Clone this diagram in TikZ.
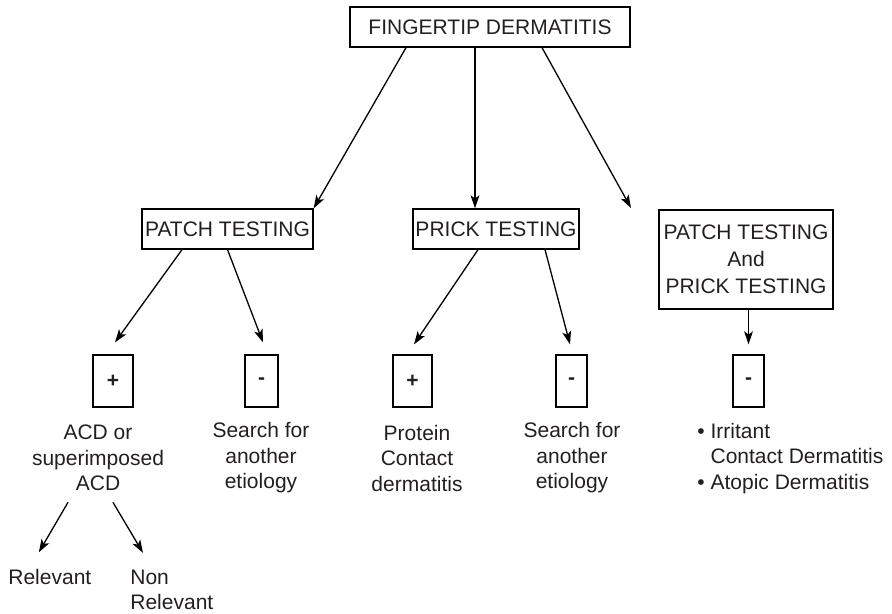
\documentclass[tikz,border=0pt]{standalone}
\usepackage{fontspec}
\setmainfont{Liberation Sans}
\usetikzlibrary{arrows.meta}
\definecolor{ink}{HTML}{231F20}
\tikzset{
    box/.style={draw, line width=0.65pt, inner sep=0pt, minimum height=20pt,
        text=ink, font=\fontsize{10.5}{12.75}\selectfont},
    sign/.style={draw, line width=0.65pt, inner sep=0pt, minimum height=26pt,
        text=ink, font=\bfseries\fontsize{10.5}{12.75}\selectfont},
    txt/.style={inner sep=0pt, align=center, text=ink,
        font=\fontsize{10.5}{12.75}\selectfont},
    arr/.style={line width=0.65pt, -{Stealth[length=6.5pt, width=4.4pt, inset=1.6pt]}},
}

\begin{document}
\begin{tikzpicture}[x=0.5pt, y=-0.5pt]
\useasboundingbox (0,0) rectangle (892,614);

% test boxes
\node[box, minimum width=140pt] (fd) at (490,27) {FINGERTIP DERMATITIS};
\node[box, minimum width=85.5pt] (patch) at (227.5,229) {PATCH TESTING};
\node[box, minimum width=83pt] (prick) at (496,229) {PRICK TESTING};
\node[box, minimum width=87pt, minimum height=49.5pt, align=center,
    font=\fontsize{10.5}{13.5}\selectfont] (both) at (746,259.5)
    {PATCH TESTING\\And\\PRICK TESTING};

% results
\node[sign, minimum width=20pt] (p1) at (113,381) {+};
\node[sign, minimum width=16.5pt] (m1) at (261.5,381) {-};
\node[sign, minimum width=19.5pt] (p2) at (412.5,381) {+};
\node[sign, minimum width=15.5pt] (m2) at (571.5,381) {-};
\node[sign, minimum width=15.5pt] (m3) at (748.5,381) {-};

\node[txt] (acd) at (98,458) {ACD or\\superimposed\\ACD};
\node[txt] (srch1) at (261,458) {Search for\\another\\etiology};
\node[txt] (prot) at (417,458) {Protein\\Contact\\dermatitis};
\node[txt] (srch2) at (572,458) {Search for\\another\\etiology};
\node[txt, align=left, anchor=west] (list) at (697,458.5)
    {\textbullet\ Irritant\\\phantom{\textbullet\ }Contact Dermatitis\\\textbullet\ Atopic Dermatitis};
\node[txt, anchor=west] (rel) at (8,577) {Relevant};
\node[txt, align=left, anchor=north west] (nonrel) at (130,569.5) {Non\\Relevant};

% arrows
\coordinate (both-in) at (631,208);
\draw[arr] ([xshift=-42pt]fd.south) -- (patch.north east);
\draw[arr] ([xshift=-7.5pt]fd.south) -- ([xshift=-10.5pt]prick.north);
\draw[arr] ([xshift=26pt]fd.south) -- (both-in);

\draw[arr] ([xshift=-22.75pt]patch.south) -- ([xshift=1pt,yshift=6pt]p1.north);
\draw[arr] (patch.south) -- ([xshift=0.75pt,yshift=6pt]m1.north);
\draw[arr] ([xshift=-9pt]prick.south) -- ([xshift=0.75pt,yshift=5pt]p2.north);
\draw[arr] ([xshift=24.5pt]prick.south) -- ([xshift=-0.75pt,yshift=5pt]m2.north);
\draw[arr] (both.south -| m3.north) -- ([yshift=5pt]m3.north);

\draw[arr] ([xshift=-15pt,yshift=-5.5pt]acd.south) -- ([xshift=-5.5pt,yshift=8.3pt]rel.north);
\draw[arr] ([xshift=7.5pt,yshift=-5.5pt]acd.south) -- ([xshift=6.5pt,yshift=8.3pt]nonrel.north west);
\end{tikzpicture}
\end{document}
